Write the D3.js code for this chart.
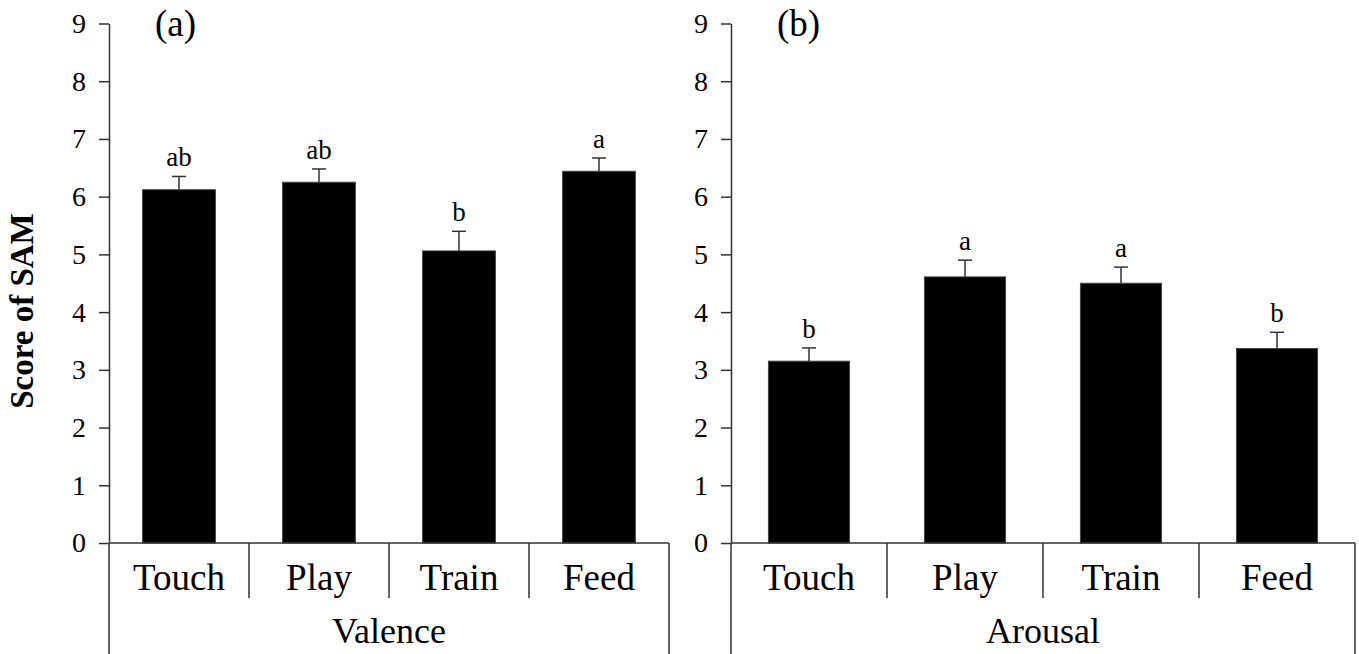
<!DOCTYPE html>
<html>
<head>
<meta charset="utf-8">
<script src="https://cdn.jsdelivr.net/npm/d3@7"></script>
<style>
  body { margin: 0; background: #fff; }
  svg text { font-family: "Liberation Serif", "Times New Roman", Times, serif !important; fill: #000; }
</style>
</head>
<body>
<div id="svg"></div>
<script>
let w = 1359, h = 654;

// data
const categories = ["Touch", "Play", "Train", "Feed"];
const valenceMean = [6.12, 6.25, 5.06, 6.44];
const valenceErr  = [0.23, 0.23, 0.34, 0.23];
const valenceSig  = ["ab", "ab", "b", "a"];
const arousalMean = [3.15, 4.61, 4.50, 3.37];
const arousalErr  = [0.23, 0.29, 0.28, 0.28];
const arousalSig  = ["b", "a", "a", "b"];
const yTicks = [0, 1, 2, 3, 4, 5, 6, 7, 8, 9];

const serif = "Liberation Serif";

let svg = d3.select("#svg")
    .append("svg")
    .attr("width", w)
    .attr("height", h);

let y = d3.scaleLinear().domain([0, 9]).range([543, 23.5]);
const lineCol = "#333";

const drawPanel = (x0, x1, group, means, errs, sigs, tag) => {
    let g = svg.append("g");
    let x = d3.scaleBand().domain(categories).range([x0, x1])
        .paddingInner(0.48).paddingOuter(0.24);
    let step = x.step();

    // y axis
    let ax = g.append("g").attr("transform", "translate(" + x0 + ",0)")
        .call(d3.axisLeft(y).tickValues(yTicks).tickSize(10).tickSizeOuter(0).tickPadding(13));
    ax.attr("font-family", serif).attr("font-size", 28);
    ax.selectAll("path,line").attr("stroke", lineCol).attr("stroke-width", 1.5);
    ax.selectAll("text").attr("font-family", serif).attr("font-size", 28).attr("fill", "#000");

    // bars
    g.selectAll("rect.bar").data(means).enter().append("rect")
        .attr("x", (d, i) => x(categories[i]))
        .attr("y", d => y(d))
        .attr("width", x.bandwidth())
        .attr("height", d => y(0) - y(d))
        .attr("fill", "#000")
        .attr("stroke", "#444")
        .attr("stroke-width", 1);

    // error bars
    let eb = g.selectAll("g.err").data(means).enter().append("g");
    eb.append("line")
        .attr("x1", (d, i) => x(categories[i]) + x.bandwidth() / 2)
        .attr("x2", (d, i) => x(categories[i]) + x.bandwidth() / 2)
        .attr("y1", d => y(d))
        .attr("y2", (d, i) => y(d + errs[i]))
        .attr("stroke", lineCol).attr("stroke-width", 1.5);
    eb.append("line")
        .attr("x1", (d, i) => x(categories[i]) + x.bandwidth() / 2 - 7)
        .attr("x2", (d, i) => x(categories[i]) + x.bandwidth() / 2 + 7)
        .attr("y1", (d, i) => y(d + errs[i]))
        .attr("y2", (d, i) => y(d + errs[i]))
        .attr("stroke", lineCol).attr("stroke-width", 1.5);

    // significance letters
    g.selectAll("text.sig").data(sigs).enter().append("text")
        .attr("x", (d, i) => x(categories[i]) + x.bandwidth() / 2)
        .attr("y", (d, i) => y(means[i] + errs[i]) - 10)
        .attr("text-anchor", "middle")
        .attr("font-family", serif)
        .attr("font-size", 27)
        .text(d => d);

    // x axis line and category box
    g.append("line").attr("x1", x0).attr("x2", x1).attr("y1", y(0)).attr("y2", y(0))
        .attr("stroke", lineCol).attr("stroke-width", 1.5);
    g.append("line").attr("x1", x0).attr("x2", x0).attr("y1", y(0)).attr("y2", h)
        .attr("stroke", lineCol).attr("stroke-width", 1.5);
    g.append("line").attr("x1", x1).attr("x2", x1).attr("y1", y(0)).attr("y2", h)
        .attr("stroke", lineCol).attr("stroke-width", 1.5);
    g.selectAll("line.div").data(categories.slice(1)).enter().append("line")
        .attr("x1", d => x(d) - step * 0.24)
        .attr("x2", d => x(d) - step * 0.24)
        .attr("y1", y(0)).attr("y2", 598)
        .attr("stroke", lineCol).attr("stroke-width", 1.5);

    g.selectAll("text.cat").data(categories).enter().append("text")
        .attr("x", d => x(d) + x.bandwidth() / 2)
        .attr("y", 590)
        .attr("text-anchor", "middle")
        .attr("font-family", serif)
        .attr("font-size", 37)
        .text(d => d);

    g.append("text").attr("x", (x0 + x1) / 2).attr("y", 643)
        .attr("text-anchor", "middle").attr("font-family", serif)
        .attr("font-size", 36).text(group);

    g.append("text").attr("x", x0 + 46).attr("y", 36)
        .attr("font-family", serif).attr("font-size", 37).text(tag);
};

drawPanel(109, 669, "Valence", valenceMean, valenceErr, valenceSig, "(a)");
drawPanel(731, 1355, "Arousal", arousalMean, arousalErr, arousalSig, "(b)");

svg.append("text")
    .attr("transform", "translate(33,311) rotate(-90)")
    .attr("text-anchor", "middle")
    .attr("font-family", serif)
    .attr("font-size", 33)
    .attr("font-weight", "bold")
    .text("Score of SAM");
</script>
</body>
</html>
